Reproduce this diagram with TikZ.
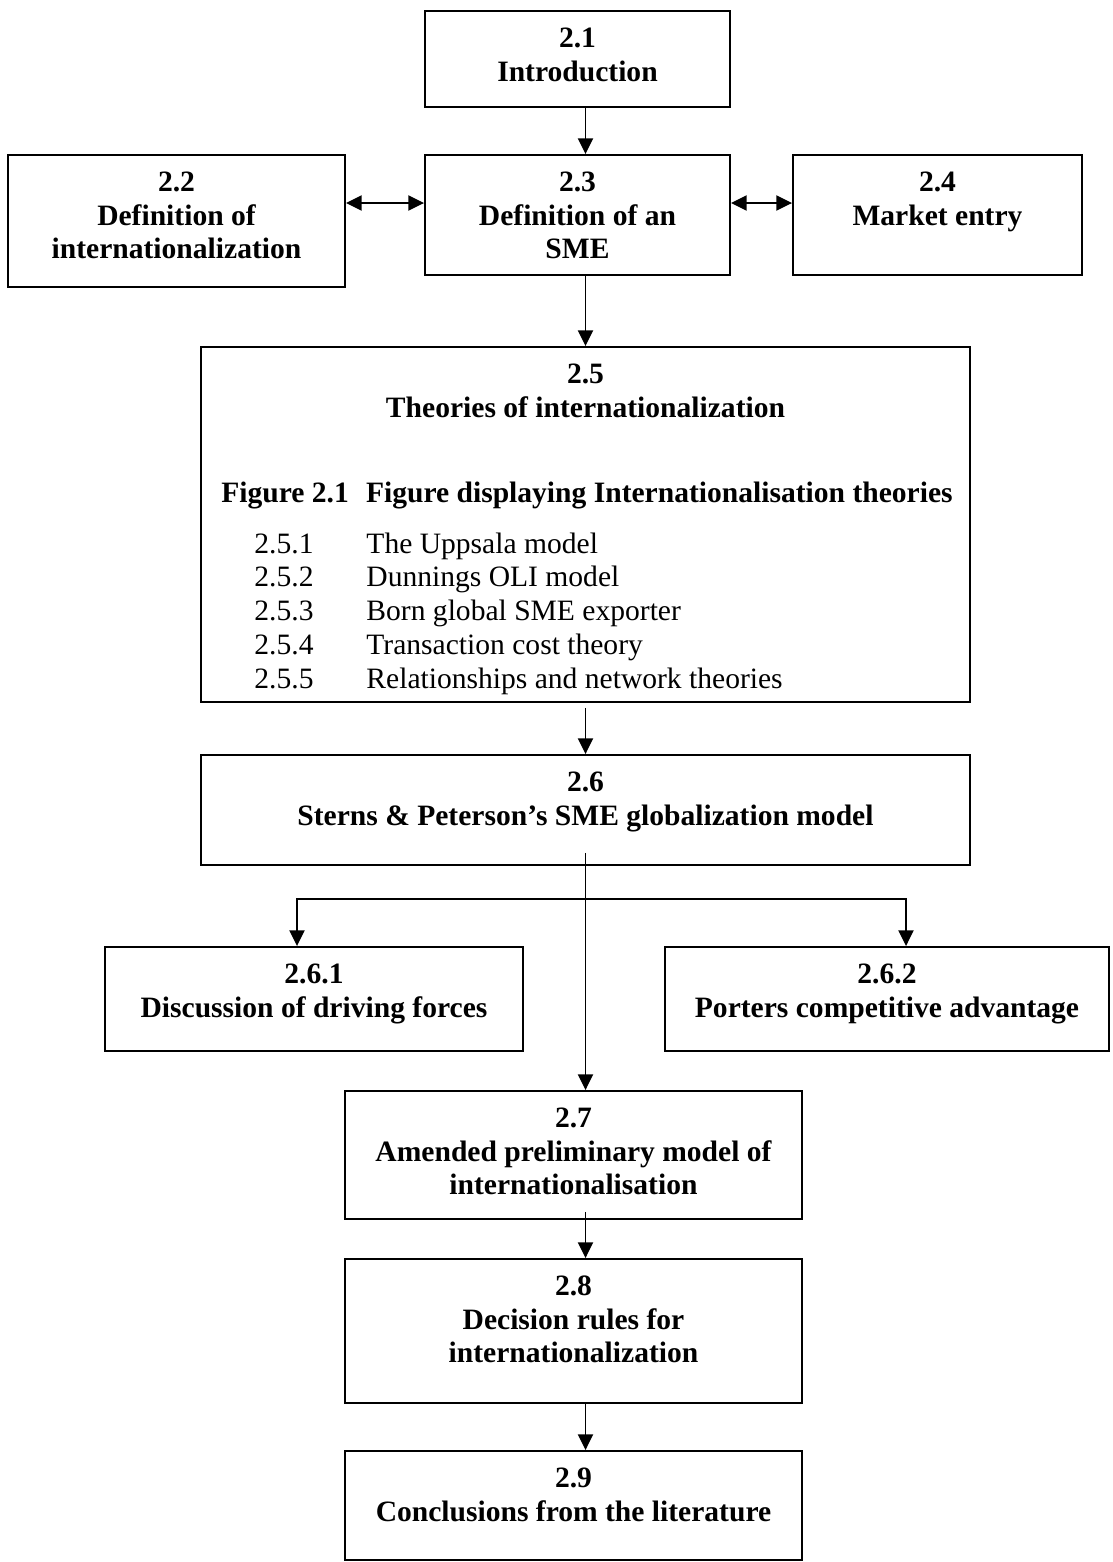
\documentclass[tikz,border=0pt]{standalone}
\usepackage{fontspec}
\setmainfont{Liberation Serif}
\usetikzlibrary{arrows.meta,fit,calc,positioning}

\begin{document}
\begin{tikzpicture}[x=0.433pt,y=0.433pt,
  box/.style={draw,line width=0.85pt,inner sep=0pt},
  txt/.style={anchor=north,yshift=-7.5pt,align=center,inner sep=0pt,
    font=\fontsize{12.8}{14.6}\selectfont\bfseries},
  item/.style={anchor=base west,inner sep=0pt,font=\fontsize{12.8}{14.6}\selectfont},
  arr/.style={line width=0.6pt,-{Triangle[length=6.8pt,width=6.6pt]}},
  dbl/.style={line width=0.6pt,{Triangle[length=6.8pt,width=6.6pt]}-{Triangle[length=6.8pt,width=6.6pt]}}]
  \useasboundingbox (0,0) rectangle (1112,-1562);
  % boxes
  \node[box,fit={(425,-11) (730,-107)}] (s21) {};
  \node[box,fit={(8,-155) (345,-287)}] (s22) {};
  \node[box,fit={(425,-155) (730,-275)}] (s23) {};
  \node[box,fit={(793,-155) (1082,-275)}] (s24) {};
  \node[box,fit={(201,-347) (970,-702)}] (s25) {};
  \node[box,fit={(201,-755) (970,-865)}] (s26) {};
  \node[box,fit={(105,-947) (523,-1051)}] (s261) {};
  \node[box,fit={(665,-947) (1109,-1051)}] (s262) {};
  \node[box,fit={(345,-1091) (802,-1219)}] (s27) {};
  \node[box,fit={(345,-1259) (802,-1403)}] (s28) {};
  \node[box,fit={(345,-1451) (802,-1560)}] (s29) {};
  % texts
  \node[txt] (t21) at (s21.north) {2.1\\Introduction};
  \node[txt] (t22) at (s22.north) {2.2\\Definition of\\internationalization};
  \node[txt] (t23) at (s23.north) {2.3\\Definition of an\\SME};
  \node[txt] (t24) at (s24.north) {2.4\\Market entry};
  \node[txt] (t25) at (s25.north) {2.5\\Theories of internationalization};
  \node[txt,anchor=base,yshift=0pt] (fig) at (587,-485)
    {Figure 2.1\hspace{7.4pt}Figure displaying Internationalisation theories};
  \foreach \t [count=\i] in {The Uppsala model,Dunnings OLI model,
      Born global SME exporter,Transaction cost theory,
      Relationships and network theories}{
    \node[item] (n\i) at (254,{-519.25-33.75*\i}) {2.5.\i};
    \node[item] (l\i) at (366,{-519.25-33.75*\i}) {\t};
  }
  \node[txt] (t26) at (s26.north) {2.6\\Sterns \& Peterson’s SME globalization model};
  \node[txt] (t261) at (s261.north) {2.6.1\\Discussion of driving forces};
  \node[txt] (t262) at (s262.north) {2.6.2\\Porters competitive advantage};
  \node[txt] (t27) at (s27.north) {2.7\\Amended preliminary model of\\internationalisation};
  \node[txt] (t28) at (s28.north) {2.8\\Decision rules for\\internationalization};
  \node[txt] (t29) at (s29.north) {2.9\\Conclusions from the literature};
  % connectors
  \coordinate (spine) at (585.5,0);
  \coordinate (hrow) at (0,-203);
  \coordinate (split) at (585.5,-899);
  \coordinate (bl) at (297,-899);
  \coordinate (br) at (906,-899);
  \draw[arr] (s21.south -| spine) -- (s23.north -| spine);
  \draw[dbl] (s22.east |- hrow) -- (s23.west |- hrow);
  \draw[dbl] (s23.east |- hrow) -- (s24.west |- hrow);
  \draw[arr] (s23.south -| spine) -- (s25.north -| spine);
  \draw[arr] ($(s25.south -| spine)+(0,-5)$) -- (s26.north -| spine);
  \draw[arr] ($(s26.south -| spine)+(0,13)$) -- (s27.north -| spine);
  \draw[arr] (split) -- (bl) -- (s261.north -| bl);
  \draw[arr] (split) -- (br) -- (s262.north -| br);
  \draw[arr] ($(s27.south -| spine)+(0,8)$) -- (s28.north -| spine);
  \draw[arr] (s28.south -| spine) -- (s29.north -| spine);
\end{tikzpicture}
\end{document}
